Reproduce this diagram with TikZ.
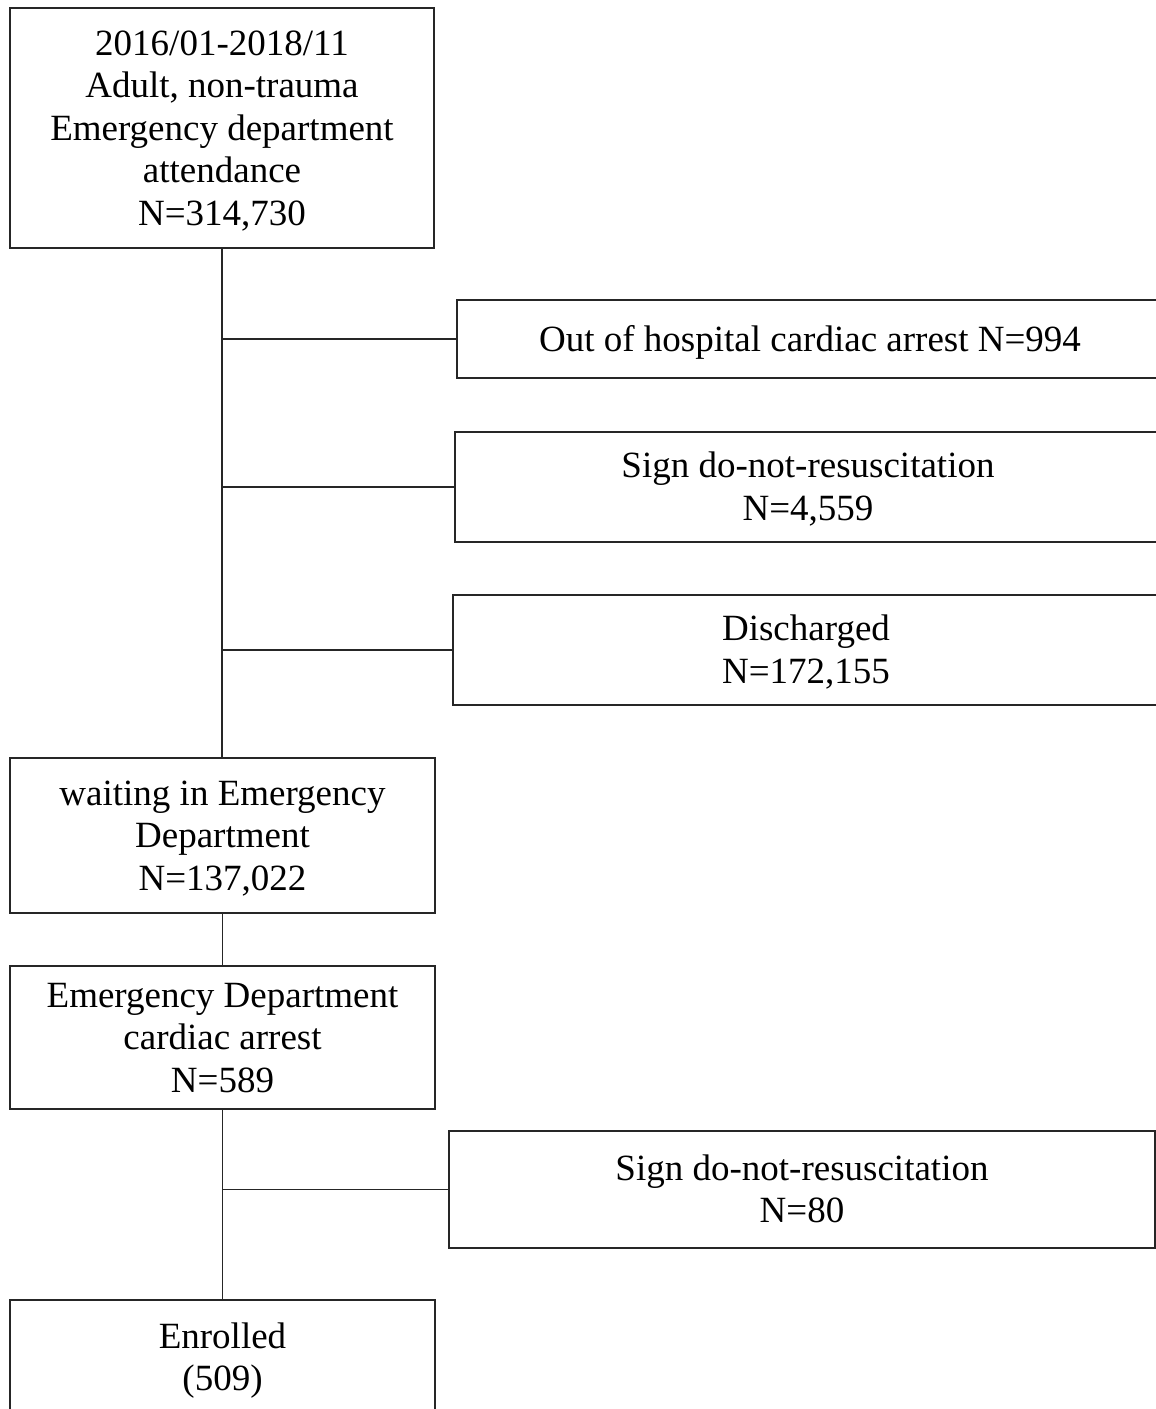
\documentclass[tikz,border=0pt]{standalone}
\usepackage{fontspec}
\setmainfont{Liberation Serif}
\newcommand\bxtext[1]{\raisebox{-3.5pt}[\height][\depth]{\begin{tabular}{@{}c@{}}#1\end{tabular}}}
\begin{document}
\begin{tikzpicture}[x=1pt,y=1pt,
  box/.style={draw=black!85,line width=1.6pt,rectangle,inner sep=0pt,align=center,
    font=\fontsize{37}{42.5}\selectfont},
  link/.style={draw=black!85,line width=1.6pt}]
\useasboundingbox (0,0) rectangle (1156,-1409);
\clip (0,0) rectangle (1156,-1409);
\node[box,minimum width=424,minimum height=240] (b1) at (222,-128)
  {\bxtext{2016/01-2018/11\\Adult, non-trauma\\Emergency department\\attendance\\N=314,730}};
\node[box,minimum width=706,minimum height=78] (r1) at (810,-339)
  {\bxtext{Out of hospital cardiac arrest N=994}};
\node[box,minimum width=706,minimum height=110] (r2) at (808,-487)
  {\bxtext{Sign do-not-resuscitation\\N=4,559}};
\node[box,minimum width=706,minimum height=110] (r3) at (806,-650)
  {\bxtext{Discharged\\N=172,155}};
\node[box,minimum width=425,minimum height=155] (w) at (222.5,-835.5)
  {\bxtext{waiting in Emergency\\Department\\N=137,022}};
\node[box,minimum width=425,minimum height=143] (ed) at (222.5,-1037.5)
  {\bxtext{Emergency Department\\cardiac arrest\\N=589}};
\node[box,minimum width=706,minimum height=117] (r4) at (802,-1189.5)
  {\bxtext{Sign do-not-resuscitation\\N=80}};
\node[box,minimum width=425,minimum height=115] (en) at (222.5,-1357.5)
  {\bxtext{Enrolled\\(509)}};
\draw[link] (b1.south) -- (b1.south |- w.north);
\draw[link] (b1.south |- r1.west) -- (r1.west);
\draw[link] (b1.south |- r2.west) -- (r2.west);
\draw[link] (b1.south |- r3.west) -- (r3.west);
\draw[link] (w.south) -- (ed.north);
\draw[link] (ed.south) -- (en.north);
\draw[link] (ed.south |- r4.west) -- (r4.west);
\end{tikzpicture}
\end{document}
